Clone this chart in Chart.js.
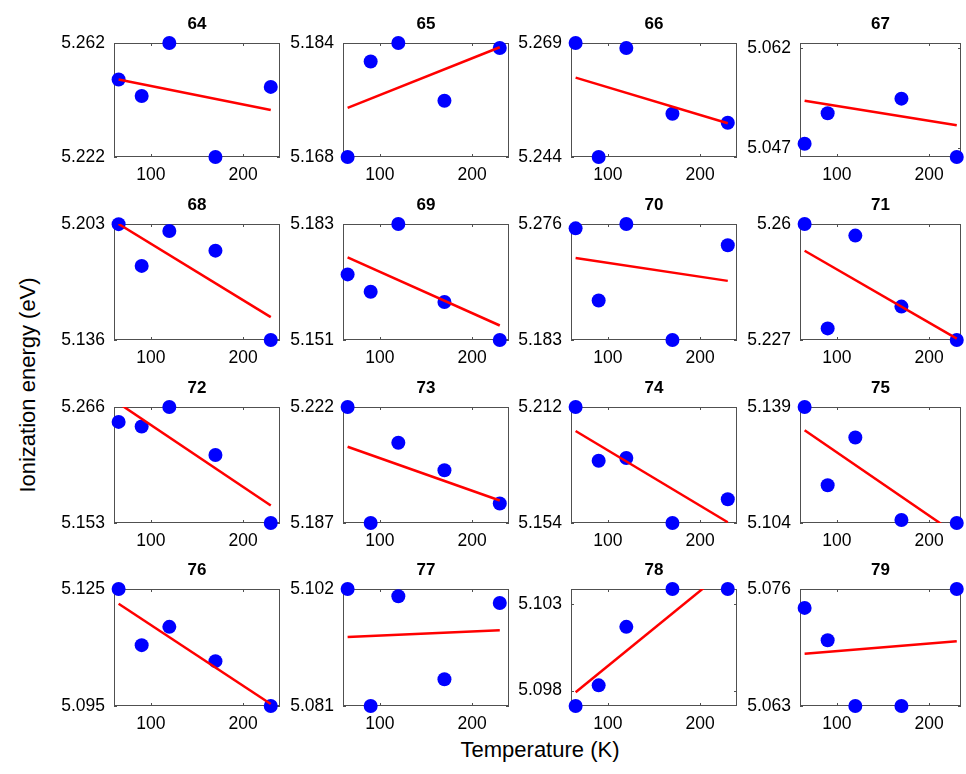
<!DOCTYPE html>
<html>
<head>
<meta charset="utf-8">
<script src="https://cdn.jsdelivr.net/npm/chart.js@4.4.0/dist/chart.umd.min.js"></script>
<style>
  body { margin: 0; background: #fff; }
  #fig { position: relative; width: 966px; height: 774px; font-family: "Liberation Sans", Arial, sans-serif; overflow: hidden; }
  #fig canvas { position: absolute; }
  .ylab { position: absolute; left: 28px; top: 385px; transform: translate(-50%, -50%) rotate(-90deg); font-size: 22px; white-space: nowrap; }
  .xlab { position: absolute; left: 540px; top: 750px; transform: translate(-50%, -50%); font-size: 22px; white-space: nowrap; }
</style>
</head>
<body>
<div id="fig">
  <div class="ylab">Ionization energy (eV)</div>
  <div class="xlab">Temperature (K)</div>
</div>
<script>
// temperatures (K) shared by every panel
const temperatures = [65, 90, 120, 170, 230];
const xTicks = [100, 200];
const panelTitles = ['64', '65', '66', '67', '68', '69', '70', '71', '72', '73', '74', '75', '76', '77', '78', '79'];

// ionization energy (eV) per panel (null = not shown)
const ie64 = [5.2492, 5.2434, 5.262, 5.222, 5.2466];
const ie65 = [5.168, 5.1814, 5.184, 5.1759, 5.1833];
const ie66 = [5.269, 5.244, 5.2679, 5.2535, 5.2515];
const ie67 = [5.0476, 5.0522, null, 5.0544, 5.0456];
const ie68 = [5.2029, 5.1788, 5.199, 5.1876, 5.136];
const ie69 = [5.1691, 5.1643, 5.183, 5.1615, 5.151];
const ie70 = [5.2725, 5.2147, 5.276, 5.183, 5.259];
const ie71 = [5.26, 5.2303, 5.2567, 5.2365, 5.227];
const ie72 = [5.2515, 5.247, 5.266, 5.2192, 5.153];
const ie73 = [5.222, 5.187, 5.2112, 5.2029, 5.1929];
const ie74 = [5.212, 5.1851, 5.1865, 5.154, 5.1659];
const ie75 = [5.139, 5.1154, 5.1298, 5.1049, 5.104];
const ie76 = [5.125, 5.1106, 5.1153, 5.1065, 5.095];
const ie77 = [5.102, 5.081, 5.1007, 5.0858, 5.0995];
const ie78 = [5.0971, 5.0983, 5.1017, 5.1039, 5.1039];
const ie79 = [5.0739, 5.0703, 5.063, 5.063, 5.076];
const energies = [ie64, ie65, ie66, ie67, ie68, ie69, ie70, ie71, ie72, ie73, ie74, ie75, ie76, ie77, ie78, ie79];

// linear fit line, value at 65 K and at 230 K
const fitLow = [5.2492, 5.1749, 5.2614, 5.0541, 5.203, 5.1738, 5.2488, 5.2524, 5.2696, 5.21, 5.2, 5.132, 5.1212, 5.0934, 5.0979, 5.0688];
const fitHigh = [5.2385, 5.1834, 5.2514, 5.0504, 5.1492, 5.155, 5.2304, 5.2274, 5.1701, 5.1938, 5.1544, 5.1005, 5.0955, 5.0946, 5.1051, 5.0702];

// y tick labels (bottom, top)
const yTickLow = [5.222, 5.168, 5.244, 5.047, 5.136, 5.151, 5.183, 5.227, 5.153, 5.187, 5.154, 5.104, 5.095, 5.081, 5.098, 5.063];
const yTickHigh = [5.262, 5.184, 5.269, 5.062, 5.203, 5.183, 5.276, 5.26, 5.266, 5.222, 5.212, 5.139, 5.125, 5.102, 5.103, 5.076];
// y axis limits
const yAxisMin = [5.222, 5.168, 5.244, 5.0456, 5.136, 5.151, 5.183, 5.227, 5.153, 5.187, 5.154, 5.104, 5.095, 5.081, 5.0971, 5.063];
const yAxisMax = [5.262, 5.184, 5.269, 5.0628, 5.203, 5.183, 5.276, 5.26, 5.266, 5.222, 5.212, 5.139, 5.125, 5.102, 5.1039, 5.076];

// layout of the grid (plot area boxes)
const colLeft = [114, 343, 571, 800];
const colWidth = [166, 166, 166, 161];
const colXMax = [240, 240, 240, 234.6];
const rowTop = [43, 224, 407, 589];
const rowHeight = [114, 116, 116, 117];

const FONT = '"Liberation Sans", Arial, sans-serif';
Chart.defaults.font.family = FONT;
Chart.defaults.color = '#000';

const YAXIS_W = 70, XAXIS_H = 30, TITLE_H = 29, PAD_R = 12;

// box with inward ticks, like a matlab axes
const framePlugin = {
  id: 'frame',
  beforeDatasetsDraw(chart) {
    const { ctx, chartArea: a, scales } = chart;
    ctx.save();
    ctx.strokeStyle = '#505050';
    ctx.lineWidth = 1;
    ctx.strokeRect(a.left + 0.5, a.top + 0.5, a.width - 1, a.height - 1);
    ctx.beginPath();
    scales.x.ticks.forEach(t => {
      const px = Math.round(scales.x.getPixelForValue(t.value)) + 0.5;
      ctx.moveTo(px, a.bottom); ctx.lineTo(px, a.bottom - 3);
      ctx.moveTo(px, a.top); ctx.lineTo(px, a.top + 3);
    });
    scales.y.ticks.forEach(t => {
      const py = Math.round(scales.y.getPixelForValue(t.value)) + 0.5;
      ctx.moveTo(a.left, py); ctx.lineTo(a.left + 3, py);
      ctx.moveTo(a.right, py); ctx.lineTo(a.right - 3, py);
    });
    ctx.stroke();
    ctx.restore();
  }
};

const fig = document.getElementById('fig');

panelTitles.forEach((title, i) => {
  const row = Math.floor(i / 4), col = i % 4;
  const canvas = document.createElement('canvas');
  const w = YAXIS_W + colWidth[col] + PAD_R;
  const h = TITLE_H + rowHeight[row] + XAXIS_H;
  canvas.width = w; canvas.height = h;
  canvas.style.width = w + 'px'; canvas.style.height = h + 'px';
  canvas.style.left = (colLeft[col] - YAXIS_W) + 'px';
  canvas.style.top = (rowTop[row] - TITLE_H) + 'px';
  fig.appendChild(canvas);

  const points = temperatures
    .map((t, k) => ({ x: t, y: energies[i][k] }))
    .filter(p => p.y !== null);
  const fit = [
    { x: temperatures[0], y: fitLow[i] },
    { x: temperatures[temperatures.length - 1], y: fitHigh[i] }
  ];

  new Chart(canvas, {
    type: 'scatter',
    data: {
      datasets: [
        {
          type: 'line', data: fit, borderColor: '#ff0000', borderWidth: 2.5,
          pointRadius: 0, fill: false, order: 0
        },
        {
          data: points, backgroundColor: '#0000ff', borderWidth: 0,
          pointRadius: 7, pointHoverRadius: 7, clip: false, order: 1
        }
      ]
    },
    options: {
      responsive: false,
      animation: false,
      events: [],
      layout: { padding: { top: 0, right: PAD_R, bottom: 0, left: 0 } },
      plugins: {
        legend: { display: false },
        tooltip: { enabled: false },
        title: {
          display: true, text: title, fullSize: false, color: '#000',
          font: { size: 17, weight: 'bold', lineHeight: 1.2 },
          padding: { top: 0, bottom: 8.6 }
        }
      },
      scales: {
        x: {
          type: 'linear', min: 60, max: colXMax[col],
          grid: { display: false, drawTicks: false }, border: { display: false },
          afterBuildTicks: s => { s.ticks = xTicks.map(v => ({ value: v })); },
          afterFit: s => { s.height = XAXIS_H; },
          ticks: { font: { size: 17.5 }, color: '#000', padding: 8, maxRotation: 0, minRotation: 0, autoSkip: false }
        },
        y: {
          type: 'linear', min: yAxisMin[i], max: yAxisMax[i],
          grid: { display: false, drawTicks: false }, border: { display: false },
          afterBuildTicks: s => { s.ticks = [yTickLow[i], yTickHigh[i]].map(v => ({ value: v })); },
          afterFit: s => { s.width = YAXIS_W; },
          ticks: {
            font: { size: 17.5 }, color: '#000', padding: 9, autoSkip: false,
            callback: v => String(+v.toFixed(3))
          }
        }
      }
    },
    plugins: [framePlugin]
  });
});
</script>
</body>
</html>
